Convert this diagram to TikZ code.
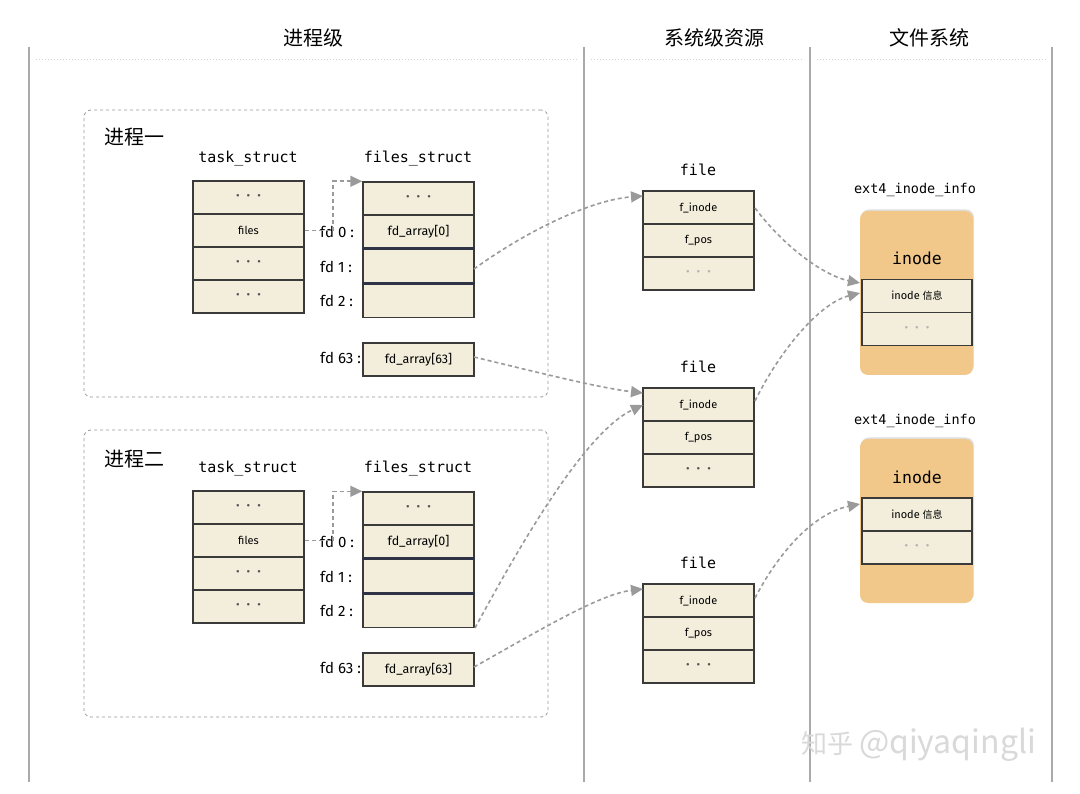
\documentclass[tikz,border=0pt]{standalone}
\usepackage{fontspec}
\setmainfont{Fira Sans}
\setmonofont{DejaVu Sans Mono}
\newfontfamily\cjk{Noto Sans CJK SC}
\usetikzlibrary{arrows.meta,shadows}
\definecolor{cream}{HTML}{F2EEDB}
\definecolor{boxline}{HTML}{3A3A3A}
\definecolor{sepline}{HTML}{2E3445}
\definecolor{linkgray}{HTML}{9A9A9A}
\definecolor{colgray}{HTML}{AAAAAA}
\definecolor{orangebox}{HTML}{F2C88A}
\definecolor{dotgray}{HTML}{555555}
\newcommand\mydots{\textcolor{dotgray}{\fontsize{11}{11}\selectfont •\hspace{7pt}•\hspace{7pt}•}}
\newcommand\litedots{\textcolor{gray!60}{\fontsize{11}{11}\selectfont •\hspace{7pt}•\hspace{7pt}•}}
\tikzset{
  cell/.style={draw=boxline, fill=cream, line width=1.4pt, minimum width=111pt, minimum height=33pt, inner sep=0pt, font=\fontsize{11}{13}\selectfont},
  arr/.style={font=\fontsize{12.5}{14}\selectfont},
  ttl/.style={font=\ttfamily\fontsize{15}{18}\selectfont},
  hdr/.style={font=\cjk\fontsize{20}{24}\selectfont},
  fdl/.style={anchor=west, inner sep=0pt, font=\fontsize{15}{17}\selectfont},
  procbox/.style={draw=gray!80, dashed, line width=0.8pt, rounded corners=7pt, inner sep=0pt},
  inodebox/.style={fill=orangebox, rounded corners=8pt, minimum width=113pt, minimum height=164pt, inner sep=0pt, drop shadow={opacity=0.25, shadow xshift=1pt, shadow yshift=1.5pt}},
  link/.style={draw=linkgray, line width=1.6pt, dash pattern=on 4pt off 3pt, -{Triangle[length=12pt,width=11pt,fill=linkgray]}},
  thicksep/.style={draw=sepline, line width=3pt},
  colline/.style={draw=colgray, line width=1.6pt},
}
\begin{document}
\begin{tikzpicture}[x=1pt,y=-1pt]
\useasboundingbox[fill=white] (0,0) rectangle (1080,794);

% column lines and header
\draw[colline] (29,47) -- (29,782);
\draw[colline] (584,47) -- (584,782);
\draw[colline] (810,47) -- (810,782);
\draw[colline] (1052,47) -- (1052,782);
\draw[gray!35, dotted, line width=1pt] (36,60) -- (578,60);
\draw[gray!35, dotted, line width=1pt] (591,60) -- (804,60);
\draw[gray!35, dotted, line width=1pt] (817,60) -- (1046,60);
\node[hdr] (h1) at (313,38) {进程级};
\node[hdr] (h2) at (714,38) {系统级资源};
\node[hdr] (h3) at (929,38) {文件系统};

% process boxes
\node[procbox, minimum width=464pt, minimum height=287pt] (p1) at (316,253.5) {};
\node[procbox, minimum width=464pt, minimum height=287pt] (p2) at (316,573.5) {};
\node[hdr] (p1l) at (134,137) {进程一};
\node[hdr] (p2l) at (134,459) {进程二};

% ---------- process 1 ----------
\node[ttl] (t1t) at (248,159) {task\_struct};
\node[ttl] (f1t) at (418,159) {files\_struct};
\node[cell] (t1a) at (248.5,197.5) {\mydots};
\node[cell] (t1b) at (248.5,230.5) {files};
\node[cell] (t1c) at (248.5,263.5) {\mydots};
\node[cell] (t1d) at (248.5,296.5) {\mydots};
\node[fdl] (fd10) at (320,232) {fd 0 :};
\node[fdl] (fd11) at (320,267) {fd 1 :};
\node[fdl] (fd12) at (320,301) {fd 2 :};
\node[fdl] (fd163) at (320,358) {fd 63 :};
\node[cell] (f1a) at (418.5,198.5) {\mydots};
\node[cell, arr] (f1b) at (418.5,231.5) {fd\_array[0]};
\node[cell, minimum height=34.5pt] (f1c) at (418.5,265.75) {};
\node[cell, minimum height=34.5pt] (f1d) at (418.5,300.25) {};
\draw[thicksep] (f1b.south west) -- (f1b.south east);
\draw[thicksep] (f1c.south west) -- (f1c.south east);
\node[cell, arr] (f1e) at (418.5,359.5) {fd\_array[63]};
\coordinate (k1) at (333,230.5);
\draw[link] (t1b.east) -- (k1) |- (f1a.north west);

% ---------- process 2 ----------
\node[ttl] (t2t) at (248,469) {task\_struct};
\node[ttl] (f2t) at (418,469) {files\_struct};
\node[cell] (t2a) at (248.5,507.5) {\mydots};
\node[cell] (t2b) at (248.5,540.5) {files};
\node[cell] (t2c) at (248.5,573.5) {\mydots};
\node[cell] (t2d) at (248.5,606.5) {\mydots};
\node[fdl] (fd20) at (320,542) {fd 0 :};
\node[fdl] (fd21) at (320,577) {fd 1 :};
\node[fdl] (fd22) at (320,611) {fd 2 :};
\node[fdl] (fd263) at (320,668) {fd 63 :};
\node[cell] (f2a) at (418.5,508.5) {\mydots};
\node[cell, arr] (f2b) at (418.5,541.5) {fd\_array[0]};
\node[cell, minimum height=34.5pt] (f2c) at (418.5,575.75) {};
\node[cell, minimum height=34.5pt] (f2d) at (418.5,610.25) {};
\draw[thicksep] (f2b.south west) -- (f2b.south east);
\draw[thicksep] (f2c.south west) -- (f2c.south east);
\node[cell, arr] (f2e) at (418.5,669.5) {fd\_array[63]};
\coordinate (k2) at (333,540.5);
\draw[link] (t2b.east) -- (k2) |- (f2a.north west);

% ---------- files ----------
\node[ttl] (fl1t) at (698,170) {file};
\node[cell] (fl1a) at (698.5,207.5) {f\_inode};
\node[cell] (fl1b) at (698.5,240.5) {f\_pos};
\node[cell] (fl1c) at (698.5,273.5) {\litedots};
\node[ttl] (fl2t) at (698,367) {file};
\node[cell] (fl2a) at (698.5,404.5) {f\_inode};
\node[cell] (fl2b) at (698.5,437.5) {f\_pos};
\node[cell] (fl2c) at (698.5,470.5) {\mydots};
\node[ttl] (fl3t) at (698,563) {file};
\node[cell] (fl3a) at (698.5,600.5) {f\_inode};
\node[cell] (fl3b) at (698.5,633.5) {f\_pos};
\node[cell] (fl3c) at (698.5,666.5) {\mydots};

% ---------- inodes ----------
\node[ttl, font=\ttfamily\fontsize{13.5}{16}\selectfont] (e1t) at (915,190) {ext4\_inode\_info};
\node[inodebox] (i1) at (916.5,293) {};
\node[ttl, font=\ttfamily\fontsize{16.5}{18}\selectfont] (i1t) at (917,258) {inode};
\node[cell, minimum width=110pt] (i1a) at (917,296) {inode {\cjk\fontsize{10}{11}\selectfont 信息}};
\node[cell, minimum width=110pt] (i1b) at (917,329) {\litedots};
\node[ttl, font=\ttfamily\fontsize{13.5}{16}\selectfont] (e2t) at (915,421) {ext4\_inode\_info};
\node[inodebox] (i2) at (916.5,521) {};
\node[ttl, font=\ttfamily\fontsize{16.5}{18}\selectfont] (i2t) at (917,477) {inode};
\node[cell, minimum width=110pt] (i2a) at (917,514.5) {inode {\cjk\fontsize{10}{11}\selectfont 信息}};
\node[cell, minimum width=110pt] (i2b) at (917,547.5) {\litedots};

% ---------- links ----------
\coordinate (s11) at (474,269);
\coordinate (s163) at (474,357);
\coordinate (s22) at (475,628);
\coordinate (s263) at (474,667);
\coordinate (e11) at (643,196);
\coordinate (e12) at (643,393);
\coordinate (e22) at (643,405);
\coordinate (e23) at (643,589);
\draw[link] (s11) .. controls (525,232) and (590,200) .. (e11);
\draw[link] (s163) .. controls (540,373) and (600,388) .. (e12);
\draw[link] (s22) .. controls (520,545) and (585,432) .. (e22);
\draw[link] (s263) .. controls (540,630) and (600,594) .. (e23);
\coordinate (g1) at (755,208);
\coordinate (g2) at (755,401);
\coordinate (g3) at (755,598);
\coordinate (n1) at (860,283);
\coordinate (n2) at (860,293);
\coordinate (n3) at (860,504);
\draw[link] (g1) .. controls (785,248) and (825,276) .. (n1);
\draw[link] (g2) .. controls (780,350) and (820,303) .. (n2);
\draw[link] (g3) .. controls (780,550) and (815,513) .. (n3);

% watermark
\node[font=\cjk\fontsize{26}{30}\selectfont, text=gray!30, anchor=west, inner sep=0pt] (wm) at (801,745) {知乎 {\fontsize{32}{34}\selectfont @qiyaqingli}};
\end{tikzpicture}
\end{document}
